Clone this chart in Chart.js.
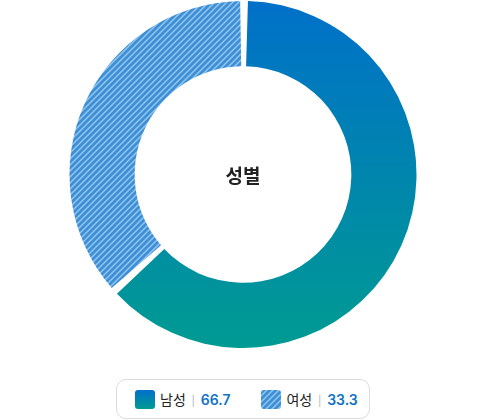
<!DOCTYPE html>
<html lang="ko">
<head>
<meta charset="utf-8">
<script src="https://cdn.jsdelivr.net/npm/chart.js@4"></script>
<style>
  html, body { margin: 0; padding: 0; background: #fff; }
  body { width: 486px; height: 420px; position: relative; font-family: "Noto Sans CJK KR", "Noto Sans", sans-serif; }
  #wrap { position: absolute; left: 0; top: 1px; width: 486px; height: 347px; }
  #center { position: absolute; left: 0; top: 1px; width: 486px; height: 347px; display: flex; align-items: center; justify-content: center; font-size: 19px; font-weight: 700; color: #222; pointer-events: none; }
  #legend { position: absolute; left: 116px; top: 379px; width: 254px; height: 40px; border: 1px solid #dcdcdc; border-radius: 10px; box-sizing: border-box; display: flex; align-items: center; padding-left: 18px; gap: 31px; }
  .item { display: flex; align-items: center; font-size: 14px; color: #222; }
  .sw { width: 20px; height: 19px; border-radius: 3px; margin-right: 5px; }
  .sep { color: #aaa; font-size: 11px; margin: 0 6px; }
  .val { color: #1273c4; font-weight: 600; font-family: "Inter", "Noto Sans", sans-serif; font-size: 14px; }
</style>
</head>
<body>
<div id="wrap"><canvas id="stats"></canvas></div>
<div id="center">성별</div>
<div id="legend"></div>
<script>
const labels = ["남성", "여성"];
// values printed in the legend
const values = [66.7, 33.3];
// slice sizes as drawn in the picture (male arc ends near 228 degrees)
const arcShares = [63.4, 36.6];

// hatched fill for the second slice
function stripes(size) {
    const c = document.createElement("canvas");
    c.width = size; c.height = size;
    const x = c.getContext("2d");
    x.fillStyle = "#3d90d6";
    x.fillRect(0, 0, size, size);
    x.strokeStyle = "#94c5ee";
    x.lineWidth = 1.5;
    x.beginPath();
    x.moveTo(-1, size + 1); x.lineTo(size + 1, -1);
    x.moveTo(-1, 1); x.lineTo(1, -1);
    x.moveTo(size - 1, size + 1); x.lineTo(size + 1, size - 1);
    x.stroke();
    return c;
}

const tile = stripes(6);

function fill(ctx) {
    const chart = ctx.chart;
    const area = chart.chartArea;
    if (!area) return "#0a80b0";
    if (ctx.dataIndex === 1) return chart.ctx.createPattern(tile, "repeat");
    const g = chart.ctx.createLinearGradient(0, area.top, 0, area.bottom);
    g.addColorStop(0, "#0070c9");
    g.addColorStop(1, "#009b92");
    return g;
}

new Chart(document.getElementById("stats"), {
    type: "doughnut",
    data: {
        labels: labels,
        datasets: [{
            data: arcShares,
            backgroundColor: fill,
            borderWidth: 0,
            spacing: 4
        }]
    },
    options: {
        responsive: true,
        maintainAspectRatio: false,
        animation: false,
        cutout: "62%",
        layout: { padding: 0 },
        plugins: {
            legend: { display: false },
            tooltip: { enabled: false }
        }
    }
});

// legend built from the same arrays
const legend = document.getElementById("legend");
const swatches = [
    "linear-gradient(#0070c9, #009b92)",
    "url(" + tile.toDataURL() + ")"
];
labels.forEach((l, i) => {
    const el = document.createElement("div");
    el.className = "item";
    el.innerHTML = '<span class="sw" style="background:' + swatches[i] + '"></span>' +
        '<span>' + l + '</span><span class="sep">|</span><span class="val">' + values[i].toFixed(1) + '</span>';
    legend.appendChild(el);
});
</script>
</body>
</html>
